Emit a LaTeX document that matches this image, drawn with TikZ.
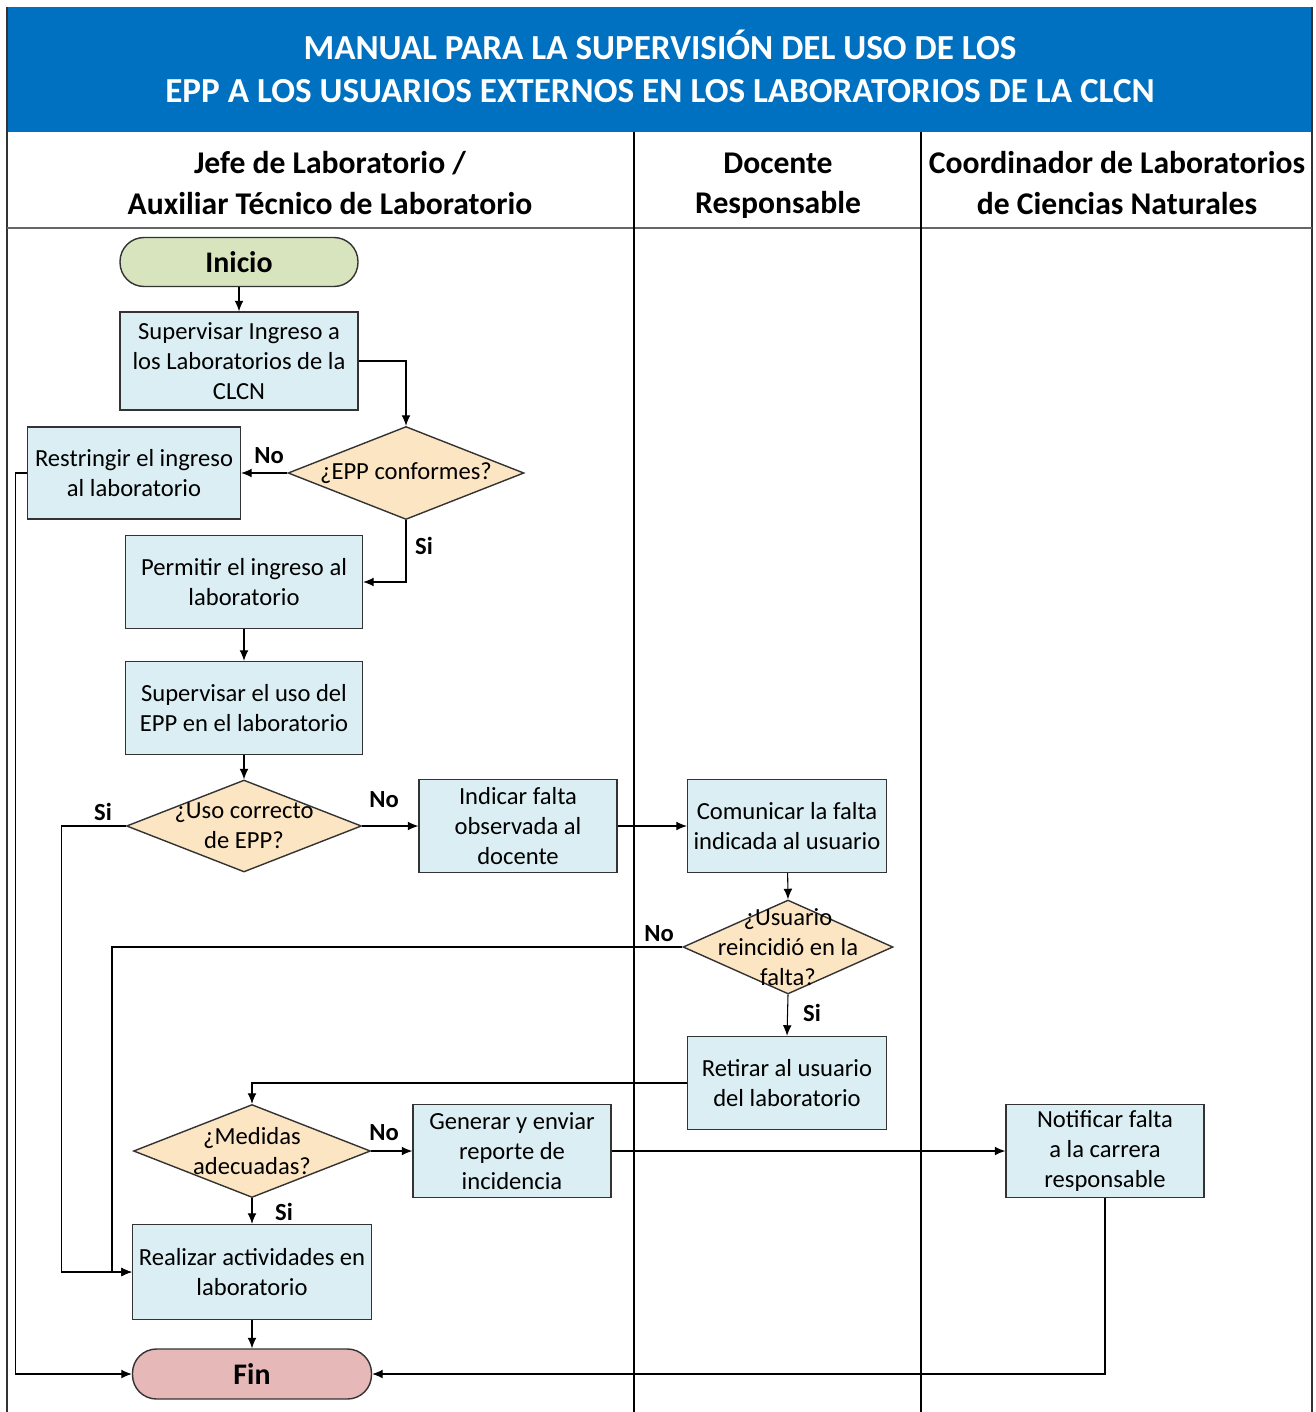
\documentclass[tikz,border=0pt]{standalone}
\usepackage{fontspec}
\setmainfont{Carlito}
\usetikzlibrary{shapes.geometric,arrows.meta}

\definecolor{titleblue}{HTML}{0070C0}
\definecolor{boxblue}{HTML}{DAEEF3}
\definecolor{decisiontan}{HTML}{FCE5C2}
\definecolor{startgreen}{HTML}{D7E4BD}
\definecolor{endpink}{HTML}{E6B9B8}
\definecolor{edgegray}{HTML}{333333}

\tikzset{
    process/.style={draw=edgegray, thick, fill=boxblue, align=center,
        font=\fontsize{14}{17}\selectfont, inner sep=0pt},
    decision/.style={draw=edgegray, thick, fill=decisiontan, diamond,
        inner sep=0pt},
    decisiontext/.style={align=center, font=\fontsize{14}{17}\selectfont},
    terminal/.style={draw=edgegray, thick, rounded corners=0.48cm,
        font=\bfseries\fontsize{17}{20}\selectfont, inner sep=0pt},
    arr/.style={-{Latex[length=6pt,width=5pt]}, semithick},
    answer/.style={font=\bfseries\fontsize{14}{17}\selectfont},
    lanehead/.style={font=\bfseries\fontsize{18}{23}\selectfont, align=center}
}

\begin{document}
\begin{tikzpicture}[x=0.02cm, y=-0.02cm]
    \useasboundingbox (0,0) rectangle (1315,1412);

    % Title band and lanes
    \fill [titleblue] (7,7) rectangle (1312,132);
    \node (title) [text=white, align=center, font=\bfseries\fontsize{20}{24.5}\selectfont]
        at (660,66) {MANUAL PARA LA SUPERVISIÓN DEL USO DE LOS\\
        EPP A LOS USUARIOS EXTERNOS EN LOS LABORATORIOS DE LA CLCN};
    \draw [edgegray, thick] (7,7) -- (7,1412);
    \draw [edgegray, thick] (1312,7) -- (1312,1412);
    \draw [black!60, very thick] (7,228) -- (1312,228);
    \draw [black, semithick] (634,132) -- (634,1412);
    \draw [black, semithick] (921,132) -- (921,1412);
    \node (lanejefe) [lanehead] at (330,183) {Jefe de Laboratorio /\\ Auxiliar Técnico de Laboratorio};
    \node (lanedocente) [lanehead] at (778,186) {Docente\\ Responsable};
    \node (lanecoord) [lanehead] at (1117,183) {Coordinador de Laboratorios\\ de Ciencias Naturales};

    % Nodes
    \node (inicio) [terminal, fill=startgreen, minimum width=4.76cm, minimum height=0.98cm]
        at (239,262) {Inicio};
    \node (ingreso) [process, minimum width=4.76cm, minimum height=1.96cm]
        at (239,361) {Supervisar Ingreso a\\ los Laboratorios de la\\ CLCN};
    \node (epp) [decision, minimum width=4.72cm, minimum height=1.86cm,
        label={[decisiontext]center:¿EPP conformes?}] at (406,473) {};
    \node (restringir) [process, minimum width=4.26cm, minimum height=1.84cm]
        at (134,473) {Restringir el ingreso\\ al laboratorio};
    \node (permitir) [process, minimum width=4.74cm, minimum height=1.86cm]
        at (244,582) {Permitir el ingreso al\\ laboratorio};
    \node (usoepp) [process, minimum width=4.74cm, minimum height=1.86cm]
        at (244,708) {Supervisar el uso del\\ EPP en el laboratorio};
    \node (uso) [decision, minimum width=4.70cm, minimum height=1.84cm,
        label={[decisiontext]center:¿Uso correcto\\ de EPP?}] at (244,826) {};
    \node (indicar) [process, minimum width=3.96cm, minimum height=1.86cm]
        at (518,826) {Indicar falta\\ observada al\\ docente};
    \node (comunicar) [process, minimum width=3.98cm, minimum height=1.86cm]
        at (787,826) {Comunicar la falta\\ indicada al usuario};
    \node (usuario) [decision, minimum width=4.20cm, minimum height=1.88cm,
        label={[decisiontext]center:¿Usuario\\ reincidió en la\\ falta?}] at (788,947) {};
    \node (retirar) [process, minimum width=3.98cm, minimum height=1.86cm]
        at (787,1083) {Retirar al usuario\\ del laboratorio};
    \node (medidas) [decision, minimum width=4.74cm, minimum height=1.86cm,
        label={[decisiontext]center:¿Medidas\\ adecuadas?}] at (252,1151) {};
    \node (generar) [process, minimum width=3.96cm, minimum height=1.86cm]
        at (512,1151) {Generar y enviar\\ reporte de\\ incidencia};
    \node (notificar) [process, minimum width=3.96cm, minimum height=1.86cm]
        at (1105,1151) {Notificar falta\\ a la carrera\\ responsable};
    \node (realizar) [process, minimum width=4.78cm, minimum height=1.90cm]
        at (252,1272) {Realizar actividades en\\ laboratorio};
    \node (fin) [terminal, fill=endpink, minimum width=4.78cm, minimum height=1.0cm]
        at (252,1374) {Fin};
    \coordinate (retorno) at (112,1272);

    % Connectors
    \draw [arr] (inicio) -- (ingreso);
    \draw [arr] (ingreso.east) -| (epp.north);
    \draw [arr] (epp.west) -- (restringir.east);
    \draw [arr] (epp.south) |- (permitir.east);
    \draw [arr] (permitir) -- (usoepp);
    \draw [arr] (usoepp) -- (uso.north);
    \draw [arr] (uso.east) -- (indicar.west);
    \draw [arr] (uso.west) -- ++(-64,0) |- (realizar.west);
    \draw [arr] (indicar.east) -- (comunicar.west);
    \draw [arr] (comunicar) -- (usuario.north);
    \draw [arr] (usuario.west) -| (retorno) -- (realizar.west);
    \draw [arr] (usuario.south) -- (retirar.north);
    \draw [arr] (retirar.west) -| (medidas.north);
    \draw [arr] (medidas.east) -- (generar.west);
    \draw [arr] (medidas.south) -- (realizar.north);
    \draw [arr] (generar.east) -- (notificar.west);
    \draw [arr] (notificar.south) |- (fin.east);
    \draw [arr] (restringir.west) -- ++(-11,0) |- (fin.west);
    \draw [arr] (realizar) -- (fin);

    % Answers
    \node (nocinco) [answer] at (269,456) {No};
    \node (sicinco) [answer] at (424,546) {Si};
    \node (nouso) [answer] at (384,800) {No};
    \node (siuso) [answer] at (103,812) {Si};
    \node (nousuario) [answer] at (659,934) {No};
    \node (siusuario) [answer] at (812,1013) {Si};
    \node (nomedidas) [answer] at (384,1133) {No};
    \node (simedidas) [answer] at (284,1212) {Si};
\end{tikzpicture}
\end{document}
